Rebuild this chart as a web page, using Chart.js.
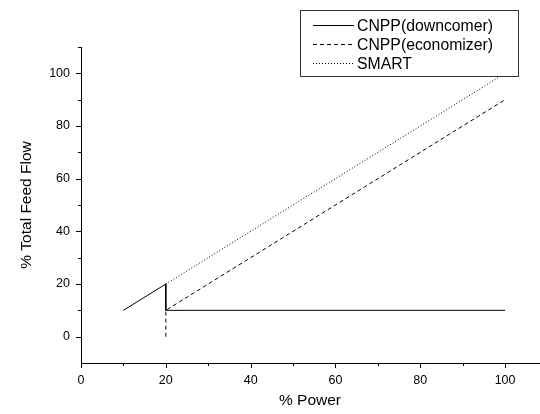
<!DOCTYPE html>
<html>
<head>
<meta charset="utf-8">
<script src="https://cdn.jsdelivr.net/npm/chart.js@4/dist/chart.umd.min.js"></script>
<style>
  html, body { margin: 0; padding: 0; background: #fff; }
  #wrap { width: 540px; height: 414px; position: relative; }
</style>
</head>
<body>
<div id="wrap"><canvas id="feed"></canvas></div>
<script>
'use strict';

/* ---- Data ---- */
const downcomerX = [10, 20, 20, 100];
const downcomerY = [10, 20, 10, 10];
const economizerX = [20, 20, 100];
const economizerY = [0, 10, 90];
const smartX = [20, 100];
const smartY = [20, 100];

const seriesLabels = ['CNPP(downcomer)', 'CNPP(economizer)', 'SMART'];
const xLabelTicks = [0, 20, 40, 60, 80, 100];
const yLabelTicks = [0, 20, 40, 60, 80, 100];

const FONT = '"Liberation Sans", Arial, sans-serif';

function toPoints(xs, ys) {
  return xs.map((x, i) => ({ x, y: ys[i] }));
}

/* ---- Tick marks: long on labelled values, short in between ---- */
const tickMarks = {
  id: 'tickMarks',
  afterDraw(chart) {
    const { ctx, scales: { x, y }, chartArea } = chart;
    ctx.save();
    ctx.strokeStyle = '#000';
    ctx.lineWidth = 1;
    ctx.beginPath();
    for (let v = 0; v <= 100; v += 10) {
      const len = v % 20 === 0 ? 5 : 3;
      const px = Math.round(x.getPixelForValue(v)) + 0.5;
      ctx.moveTo(px, chartArea.bottom);
      ctx.lineTo(px, chartArea.bottom + len);
    }
    for (let v = 0; v <= 110; v += 10) {
      const len = v % 20 === 0 ? 5 : 3;
      const py = Math.round(y.getPixelForValue(v)) + 0.5;
      ctx.moveTo(chartArea.left, py);
      ctx.lineTo(chartArea.left - len, py);
    }
    ctx.stroke();
    ctx.restore();
  }
};

/* ---- Boxed legend in the top right ---- */
const boxLegend = {
  id: 'boxLegend',
  afterDraw(chart) {
    const ctx = chart.ctx;
    const left = 300.5, top = 10.5, w = 218, h = 66;
    ctx.save();
    ctx.fillStyle = '#fff';
    ctx.fillRect(left, top, w, h);
    ctx.strokeStyle = '#333';
    ctx.lineWidth = 1;
    ctx.strokeRect(left, top, w, h);
    ctx.font = '15.8px ' + FONT;
    ctx.textBaseline = 'middle';
    ctx.fillStyle = '#000';
    chart.data.datasets.forEach((ds, i) => {
      const yy = 25.5 + i * 19;
      ctx.beginPath();
      ctx.setLineDash(ds.borderDash || []);
      ctx.strokeStyle = '#000';
      ctx.moveTo(313, yy);
      ctx.lineTo(354, yy);
      ctx.stroke();
      ctx.setLineDash([]);
      ctx.fillText(ds.label, 357, yy + 1);
    });
    ctx.restore();
  }
};

function lineSet(label, xs, ys, dash) {
  return {
    label,
    data: toPoints(xs, ys),
    borderColor: '#000',
    borderWidth: 1,
    borderDash: dash,
    pointRadius: 0,
    fill: false,
    tension: 0
  };
}

new Chart(document.getElementById('feed'), {
  type: 'line',
  data: {
    datasets: [
      lineSet(seriesLabels[0], downcomerX, downcomerY, []),
      lineSet(seriesLabels[1], economizerX, economizerY, [4, 3]),
      lineSet(seriesLabels[2], smartX, smartY, [1, 2])
    ]
  },
  options: {
    responsive: true,
    maintainAspectRatio: false,
    animation: false,
    layout: { padding: { top: 47, right: 1, left: 0, bottom: 0 } },
    plugins: { legend: { display: false }, tooltip: { enabled: false } },
    scales: {
      x: {
        type: 'linear',
        min: 0,
        max: 108,
        afterFit: (s) => { s.height = 51; },
        afterBuildTicks: (s) => { s.ticks = xLabelTicks.map(v => ({ value: v })); },
        grid: { drawOnChartArea: false, color: 'rgba(0,0,0,0)', tickLength: 6 },
        border: { display: true, color: '#000', width: 1 },
        ticks: { color: '#000', font: { family: FONT, size: 12.5 }, padding: 4, maxRotation: 0 },
        title: { display: true, text: '% Power', color: '#000', font: { family: FONT, size: 15.5 }, padding: { top: 5 } }
      },
      y: {
        type: 'linear',
        min: -10,
        max: 110,
        afterFit: (s) => { s.width = 81; },
        afterBuildTicks: (s) => { s.ticks = yLabelTicks.map(v => ({ value: v })); },
        grid: { drawOnChartArea: false, color: 'rgba(0,0,0,0)', tickLength: 6 },
        border: { display: true, color: '#000', width: 1 },
        ticks: { color: '#000', font: { family: FONT, size: 12.5 }, padding: 5 },
        title: { display: true, text: '% Total Feed Flow', color: '#000', font: { family: FONT, size: 15.5 }, padding: { top: 17, bottom: 0 } }
      }
    }
  },
  plugins: [tickMarks, boxLegend]
});
</script>
</body>
</html>
